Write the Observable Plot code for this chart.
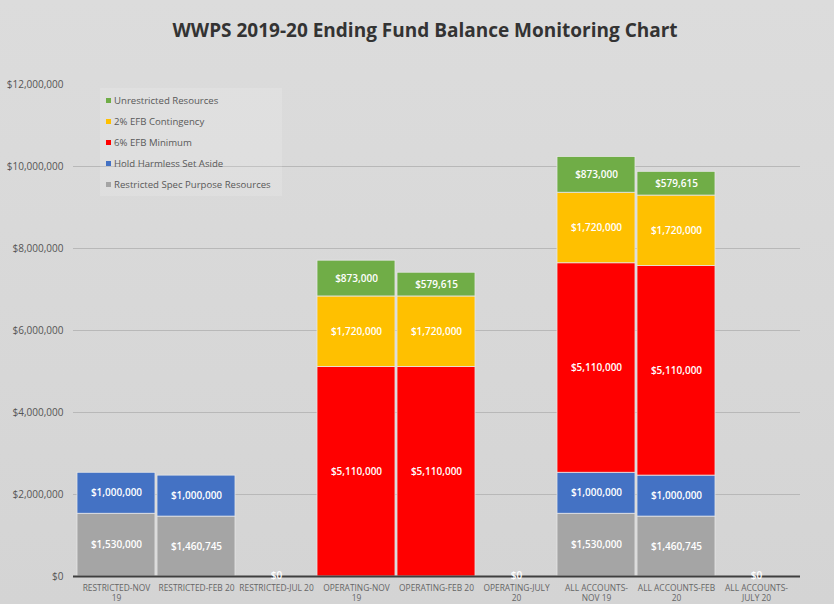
<!DOCTYPE html>
<html>
<head>
<meta charset="utf-8">
<script src="https://cdn.jsdelivr.net/npm/d3@7"></script>
<script src="https://cdn.jsdelivr.net/npm/@observablehq/plot@0.6"></script>
<style>
  html, body { margin: 0; padding: 0; background: #d9d9d9; }
  #wrap { position: relative; width: 834px; height: 604px; background: linear-gradient(#dcdcdc, #d4d4d4); font-family: "Open Sans", sans-serif; overflow: hidden; }
  #title { position: absolute; top: 17px; left: 0; width: 850px; text-align: center; font-size: 19px; font-weight: 700; color: #333; }
  #chart { position: absolute; top: 50px; left: 0; }
  #legend { position: absolute; left: 100px; top: 88px; width: 182px; height: 108px; background: rgba(255,255,255,0.15); font-size: 9.6px; color: #595959; }
  #legend .item { position: absolute; left: 6px; height: 12px; line-height: 12px; white-space: nowrap; }
  #legend .sw { display: inline-block; width: 5px; height: 5px; margin-right: 3px; vertical-align: 1px; }
</style>
</head>
<body>
<div id="wrap">
  <div id="title">WWPS 2019-20 Ending Fund Balance Monitoring Chart</div>
  <div id="chart"></div>
  <div id="legend"></div>
</div>
<script>
const categories = ["RESTRICTED-NOV 19", "RESTRICTED-FEB 20", "RESTRICTED-JUL 20", "OPERATING-NOV 19", "OPERATING-FEB 20", "OPERATING-JULY 20", "ALL ACCOUNTS-NOV 19", "ALL ACCOUNTS-FEB 20", "ALL ACCOUNTS-JULY 20"];
const tickLabels = ["RESTRICTED-NOV\n19", "RESTRICTED-FEB 20", "RESTRICTED-JUL 20", "OPERATING-NOV\n19", "OPERATING-FEB 20", "OPERATING-JULY\n20", "ALL ACCOUNTS-\nNOV 19", "ALL ACCOUNTS-FEB\n20", "ALL ACCOUNTS-\nJULY 20"];
const seriesNames = ["Restricted Spec Purpose Resources", "Hold Harmless Set Aside", "6% EFB Minimum", "2% EFB Contingency", "Unrestricted Resources"];
const seriesColors = ["#a5a5a5", "#4472c4", "#ff0000", "#ffc000", "#70ad47"];
const restricted   = [1530000, 1460745, 0, 0, 0, 0, 1530000, 1460745, 0];
const holdHarmless = [1000000, 1000000, 0, 0, 0, 0, 1000000, 1000000, 0];
const efbMinimum   = [0, 0, 0, 5110000, 5110000, 0, 5110000, 5110000, 0];
const contingency  = [0, 0, 0, 1720000, 1720000, 0, 1720000, 1720000, 0];
const unrestricted = [0, 0, 0, 873000, 579615, 0, 873000, 579615, 0];
const yTicks = [0, 2000000, 4000000, 6000000, 8000000, 10000000, 12000000];

const seriesValues = [restricted, holdHarmless, efbMinimum, contingency, unrestricted];
const rows = [];
categories.forEach((c, i) => {
  seriesNames.forEach((s, j) => {
    const v = seriesValues[j][i];
    if (v > 0) rows.push({category: c, series: s, value: v});
  });
});
const totals = categories.map((c, i) => ({category: c, total: d3.sum(seriesValues, a => a[i])}));
const zeros = totals.filter(d => d.total === 0);
const money = v => "$" + d3.format(",")(v);
const tickMap = new Map(categories.map((c, i) => [c, tickLabels[i]]));

const chart = Plot.plot({
  width: 834,
  height: 554,
  marginTop: 34,
  marginBottom: 28,
  marginLeft: 73,
  marginRight: 34,
  style: {background: "transparent", fontFamily: "Open Sans, sans-serif"},
  x: {domain: categories, paddingInner: 0.02, paddingOuter: 0.005, label: null},
  y: {domain: [0, 12000000], label: null},
  color: {domain: seriesNames, range: seriesColors},
  marks: [
    Plot.ruleY(yTicks.filter(t => t > 0 && t < 12000000), {stroke: "#b8b8b8", strokeWidth: 1}),
    Plot.axisY({ticks: yTicks, tickSize: 0, tickPadding: 10, tickFormat: money, fontSize: 10, fill: "#555"}),
    Plot.axisX({tickSize: 0, tickPadding: 7, tickFormat: d => tickMap.get(d), fontSize: 8.4, fill: "#666", lineHeight: 1.2}),
    Plot.barY(rows, {x: "category", y: "value", fill: "series", order: seriesNames, stroke: "#e6e6e6", strokeWidth: 0.8}),
    Plot.text(rows, Plot.stackY({x: "category", y: "value", z: "series", order: seriesNames, text: d => money(d.value), fill: "white", fontSize: 10, fontWeight: 600})),
    Plot.ruleY([0], {stroke: "#3f3f3f", strokeWidth: 2}),
    Plot.text(zeros, {x: "category", y: 0, text: d => money(d.total), fill: "white", fontSize: 10, fontWeight: 600, dy: -1})
  ]
});
document.getElementById("chart").appendChild(chart);

const legend = document.getElementById("legend");
const legendOrder = [4, 3, 2, 1, 0];
legendOrder.forEach((j, k) => {
  const item = document.createElement("div");
  item.className = "item";
  item.style.top = (7 + k * 21) + "px";
  item.innerHTML = `<span class="sw" style="background:${seriesColors[j]}"></span>${seriesNames[j]}`;
  legend.appendChild(item);
});
</script>
</body>
</html>
